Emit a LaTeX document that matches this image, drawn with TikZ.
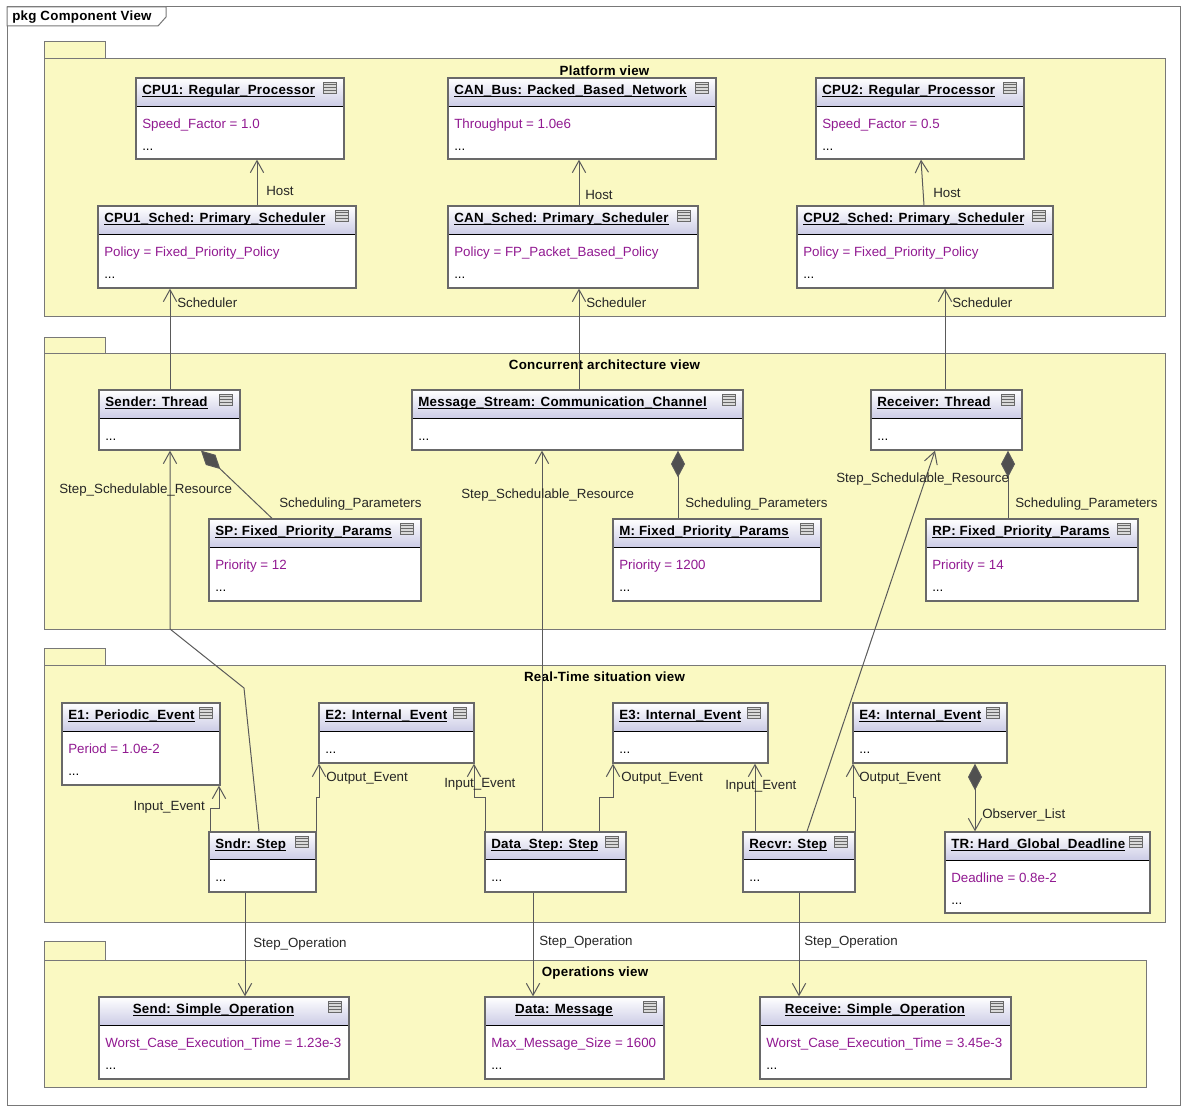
\documentclass[tikz,border=0pt]{standalone}
\usepackage{fontspec}
\setmainfont{Liberation Sans}
\newfontfamily\ttlfont[LetterSpace=2]{Liberation Sans}
\usetikzlibrary{arrows.meta,fit}
\definecolor{pkgfill}{RGB}{250,249,194}
\definecolor{pkgline}{RGB}{120,120,120}
\definecolor{hdr}{RGB}{204,204,230}
\definecolor{boxline}{RGB}{105,105,105}
\definecolor{attr}{RGB}{145,25,145}
\definecolor{conn}{RGB}{90,90,90}
\definecolor{dia}{RGB}{80,80,80}
\newif\ifctitle
\newcommand\ulin[1]{\setbox0=\hbox{#1}\rlap{\rule[-0.22em]{\wd0}{0.09em}}\box0}
\tikzset{
  conn/.style={draw=conn,line width=0.75pt},
  openarr/.style={-{Straight Barb[length=9pt,width=10pt]}},
  comparr/.style={-{Diamond[length=20pt,width=10.5pt,fill=dia]}},
  lbl/.style={anchor=base west,inner sep=0pt,text=black!85},
  ttl/.style={inner sep=0pt,font=\ttlfont\bfseries}
}
\newcommand\uobj[8]{%
  \fill[white] (#2,#3) rectangle (#4,#5);
  \shade[top color=white,bottom color=hdr] (#2,#3) rectangle (#4,#6);
  \draw[black,line width=0.75pt] (#2,#6) -- (#4,#6);
  \node[draw=boxline,line width=1pt,inner sep=0pt,fit={(#2,#3)(#4,#5)}] (#1) {};
  \ifctitle
    \node[ttl,anchor=base] at ({(#2+#4-21)/2},#3+16) {\ulin{#7}};
  \else
    \node[ttl,anchor=base west] at (#2+6,#3+16) {\ulin{#7}};
  \fi
  \draw[boxline,fill=black!15,line width=0.6pt] (#4-21,#3+4) rectangle (#4-8,#3+15);
  \foreach \k in {1,2,3} \draw[boxline,line width=0.5pt] (#4-21,#3+4+2.75*\k) -- (#4-8,#3+4+2.75*\k);
  \if\relax\detokenize{#8}\relax
    \node[anchor=base west,inner sep=0pt] at (#2+6,#6+22) {...};
  \else
    \node[anchor=base west,inner sep=0pt,text=attr] at (#2+6,#6+22) {#8};
    \node[anchor=base west,inner sep=0pt] at (#2+6,#6+44) {...};
  \fi
}
\newcommand\upkg[7]{%
  \draw[pkgline,fill=pkgfill,line width=0.75pt] (#2,#3) rectangle (105,#4);
  \draw[pkgline,fill=pkgfill,line width=0.75pt] (#2,#4) rectangle (#5,#6);
  \node[ttl,anchor=base] (#1) at ({(#2+#5)/2},#4+16) {#7};
}
\begin{document}
\begin{tikzpicture}[x=0.75pt,y=-0.75pt]
\useasboundingbox (0,0) rectangle (1181,1106);
\fill[white] (0,0) rectangle (1181,1106);
% frame
\draw[pkgline,line width=0.75pt] (7,7) rectangle (1180,1105);
\draw[pkgline,fill=white,line width=0.75pt] (7,7) -- (166,7) -- (166,17) -- (158,26) -- (7,26) -- cycle;
\node[ttl,anchor=base west] (frametitle) at (12,21) {pkg Component View};
% packages
\upkg{pplat}{44}{42}{59}{1165}{316}{Platform view}
\upkg{pconc}{44}{337}{353}{1165}{629}{Concurrent architecture view}
\upkg{preal}{44}{648}{665}{1165}{922}{Real-Time situation view}
\upkg{pops}{44}{941}{960}{1146}{1087}{Operations view}
% platform
\uobj{cpu1}{136}{78}{344}{159}{106}{CPU1: Regular\_Processor}{Speed\_Factor = 1.0}
\uobj{canbus}{448}{78}{716}{159}{106}{CAN\_Bus: Packed\_Based\_Network}{Throughput = 1.0e6}
\uobj{cpu2}{816}{78}{1024}{159}{106}{CPU2: Regular\_Processor}{Speed\_Factor = 0.5}
\uobj{cpu1s}{98}{206}{356}{288}{234}{CPU1\_Sched: Primary\_Scheduler}{Policy = Fixed\_Priority\_Policy}
\uobj{cans}{448}{206}{698}{288}{234}{CAN\_Sched: Primary\_Scheduler}{Policy = FP\_Packet\_Based\_Policy}
\uobj{cpu2s}{797}{206}{1053}{288}{234}{CPU2\_Sched: Primary\_Scheduler}{Policy = Fixed\_Priority\_Policy}
% concurrent
\uobj{sender}{99}{390}{240}{450}{418}{Sender: Thread}{}
\uobj{msg}{412}{390}{743}{450}{418}{Message\_Stream: Communication\_Channel}{}
\uobj{receiver}{871}{390}{1022}{450}{418}{Receiver: Thread}{}
\uobj{sp}{209}{519}{421}{601}{547}{SP: Fixed\_Priority\_Params}{Priority = 12}
\uobj{mpar}{613}{519}{821}{601}{547}{M: Fixed\_Priority\_Params}{Priority = 1200}
\uobj{rp}{926}{519}{1138}{601}{547}{RP: Fixed\_Priority\_Params}{Priority = 14}
% real-time
\uobj{e1}{62}{703}{220}{785}{731}{E1: Periodic\_Event}{Period = 1.0e-2}
\uobj{e2}{319}{703}{474}{763}{731}{E2: Internal\_Event}{}
\uobj{e3}{613}{703}{768}{763}{731}{E3: Internal\_Event}{}
\uobj{e4}{853}{703}{1007}{763}{731}{E4: Internal\_Event}{}
\uobj{sndr}{209}{832}{316}{892}{859}{Sndr: Step}{}
\uobj{dstep}{485}{832}{626}{892}{859}{Data\_Step: Step}{}
\uobj{recvr}{743}{832}{855}{892}{859}{Recvr: Step}{}
\uobj{tr}{945}{832}{1150}{913}{860}{TR: Hard\_Global\_Deadline}{Deadline = 0.8e-2}
% operations
\ctitletrue
\uobj{send}{99}{997}{349}{1079}{1025}{Send: Simple\_Operation}{Worst\_Case\_Execution\_Time = 1.23e-3}
\uobj{dmsg}{485}{997}{664}{1079}{1025}{Data: Message}{Max\_Message\_Size = 1600}
\uobj{recv}{760}{997}{1011}{1079}{1025}{Receive: Simple\_Operation}{Worst\_Case\_Execution\_Time = 3.45e-3}
\ctitlefalse
% ---- connectors: Host
\draw[conn,openarr] (257,0 |- cpu1s.north) -- (257,0 |- cpu1.south);
\node[lbl] at (266,195) {Host};
\draw[conn,openarr] (579,0 |- cans.north) -- (579,0 |- canbus.south);
\node[lbl] at (585,199) {Host};
\draw[conn,openarr] (924,0 |- cpu2s.north) -- (921,0 |- cpu2.south);
\node[lbl] at (933,197) {Host};
% Scheduler
\draw[conn,openarr] (170,0 |- sender.north) -- (170,0 |- cpu1s.south);
\node[lbl] at (177,307) {Scheduler};
\draw[conn,openarr] (579,0 |- msg.north) -- (579,0 |- cans.south);
\node[lbl] at (586,307) {Scheduler};
\draw[conn,openarr] (945,0 |- receiver.north) -- (945,0 |- cpu2s.south);
\node[lbl] at (952,307) {Scheduler};
% Scheduling parameters
\draw[conn,comparr] (272,0 |- sp.north) -- (201,0 |- sender.south);
\node[lbl] at (279,507) {Scheduling\_Parameters};
\draw[conn,comparr] (678,0 |- mpar.north) -- (678,0 |- msg.south);
\node[lbl] at (685,507) {Scheduling\_Parameters};
\draw[conn,comparr] (1008,0 |- rp.north) -- (1008,0 |- receiver.south);
\node[lbl] at (1015,507) {Scheduling\_Parameters};
% Step schedulable resource
\draw[conn,openarr] (259,0 |- sndr.north) -- (244,688) -- (170,629) -- (170,0 |- sender.south);
\node[lbl] at (59,493) {Step\_Schedulable\_Resource};
\draw[conn,openarr] (542,0 |- dstep.north) -- (542,0 |- msg.south);
\node[lbl] at (461,498) {Step\_Schedulable\_Resource};
\draw[conn,openarr] (807,0 |- recvr.north) -- (935,0 |- receiver.south);
\node[lbl] at (836,482) {Step\_Schedulable\_Resource};
% events
\draw[conn,openarr] (210,0 |- sndr.north) -- (210,808) -- (219,808) -- (219,0 |- e1.south);
\node[lbl,anchor=base east] at (205,810) {Input\_Event};
\draw[conn,openarr] (316,0 |- sndr.north) -- (316,797) -- (319,797) -- (319,0 |- e2.south);
\node[lbl] at (326,781) {Output\_Event};
\draw[conn,openarr] (485,0 |- dstep.north) -- (485,797) -- (474,797) -- (474,0 |- e2.south);
\node[lbl] at (444,787) {Input\_Event};
\draw[conn,openarr] (599,0 |- dstep.north) -- (599,797) -- (613,797) -- (613,0 |- e3.south);
\node[lbl] at (621,781) {Output\_Event};
\draw[conn,openarr] (755,0 |- recvr.north) -- (755,0 |- e3.south);
\node[lbl] at (725,789) {Input\_Event};
\draw[conn,openarr] (855,0 |- recvr.north) -- (855,797) -- (853,797) -- (853,0 |- e4.south);
\node[lbl] at (859,781) {Output\_Event};
\draw[conn,{Diamond[length=20pt,width=10.5pt,fill=dia]}-{Straight Barb[length=9pt,width=10pt]}] (975,0 |- e4.south) -- (975,0 |- tr.north);
\node[lbl] at (982,818) {Observer\_List};
% step operation
\draw[conn,openarr] (245,0 |- sndr.south) -- (245,0 |- send.north);
\node[lbl] at (253,947) {Step\_Operation};
\draw[conn,openarr] (533,0 |- dstep.south) -- (533,0 |- dmsg.north);
\node[lbl] at (539,945) {Step\_Operation};
\draw[conn,openarr] (799,0 |- recvr.south) -- (799,0 |- recv.north);
\node[lbl] at (804,945) {Step\_Operation};
\end{tikzpicture}
\end{document}
